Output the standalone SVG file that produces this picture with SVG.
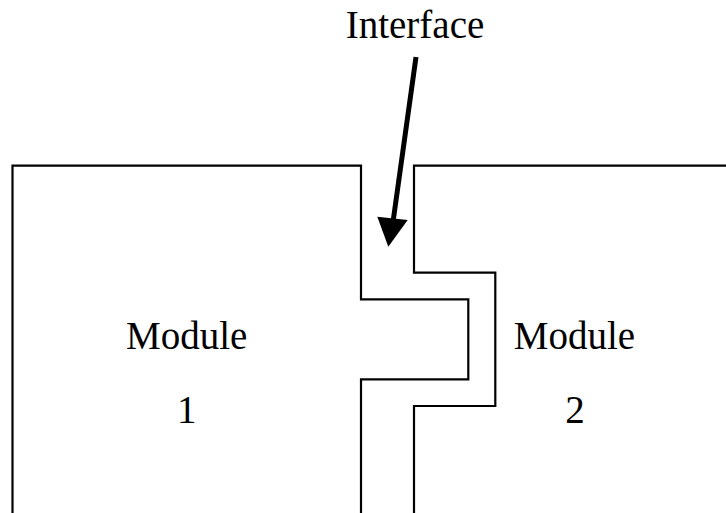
<svg xmlns="http://www.w3.org/2000/svg" width="726" height="513" viewBox="0 0 726 513">
<style>
.outline{fill:none;stroke:#000;stroke-width:2.2;stroke-linejoin:miter}
.lbl{font-family:'Liberation Serif','Times New Roman',Times,serif;font-size:39px;fill:#000;text-anchor:middle}
.arrow{stroke:#000;stroke-width:5;fill:none}
.head{fill:#000;stroke:none}
</style>
<rect width="726" height="513" fill="#fff"/>
<g id="module1">
<path class="outline" d="M12.5,514 V165.7 H361 V299.3 H468.3 V379.3 H361 V514"/>
<text class="lbl" x="186.7" y="349">Module</text>
<text class="lbl" x="186.7" y="422.5">1</text>
</g>
<g id="module2">
<path class="outline" d="M727,165.7 H414 V272.7 H495.3 V406 H414 V514"/>
<text class="lbl" x="574.5" y="349">Module</text>
<text class="lbl" x="575" y="422.5">2</text>
</g>
<g id="interface">
<text class="lbl" x="415" y="38">Interface</text>
</g>
<g id="connectors">
<line class="arrow" x1="416" y1="57" x2="393" y2="222"/>
<polygon class="head" points="388.3,246.7 377.3,216.7 407.7,220"/>
</g>
</svg>
